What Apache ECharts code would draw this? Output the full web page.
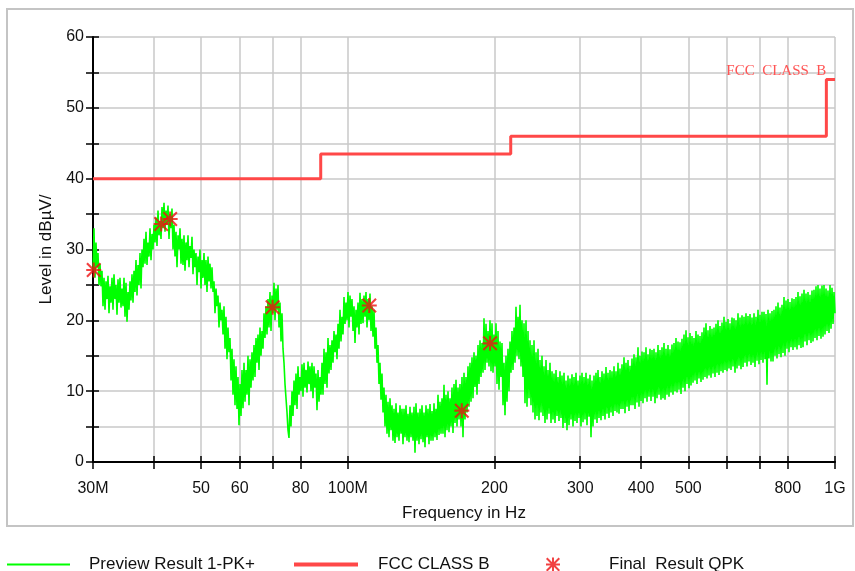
<!DOCTYPE html>
<html>
<head>
<meta charset="utf-8">
<script src="https://cdn.jsdelivr.net/npm/echarts@6/dist/echarts.min.js"></script>
<style>
  html, body { margin: 0; padding: 0; background: #ffffff; }
  #chart { width: 855px; height: 571px; }
</style>
</head>
<body>
<div id="chart"></div>
<script>
// Sweep settings of the peak preview scan (log-spaced frequency grid, MHz)
const sweepStartMHz = 30;
const sweepStopMHz = 1000;

// Preview Result 1-PK+ : levels in dBµV along the sweep
const pkLevels = [
  27, 33, 26, 31, 27.5, 29.5, 25, 28, 24.8, 27,
  22, 26, 21.5, 25.5, 23, 26.3, 21, 24.8, 22.5, 26,
  21.5, 26.5, 23, 25, 20.8, 25.8, 22.5, 26, 21.8, 24.5,
  22, 26, 20.5, 25.3, 19.8, 24, 21.5, 25.5, 22.8, 26.5,
  22.5, 27, 24, 28.5, 23.5, 27.8, 25, 29.5, 24.5, 30,
  27.5, 31.5, 28, 32.5, 27.8, 31, 29, 33, 28.5, 32.2,
  30, 33.5, 31, 34.5, 30.5, 35.5, 32, 34, 31.5, 36,
  33, 36.6, 32.5, 35.5, 33.5, 36.2, 31.5, 35, 33, 35.8,
  30, 33.5, 29, 32.5, 27.5, 32, 30, 33, 28, 31.5,
  27.8, 32, 27, 31, 28.5, 32, 27.5, 30.5, 28.8, 31.8,
  26.5, 30, 27.5, 29.5, 25, 29, 26.8, 30, 24.5, 28.5,
  26, 29.5, 25, 28.5, 24, 29, 25.5, 28, 24.5, 27.5,
  24, 25.5, 21, 24.5, 22, 23.5, 19, 22.5, 20, 21.5,
  18, 22, 16, 20.5, 14.5, 19, 15.5, 17.5, 11.5, 16,
  9.5, 14.5, 8, 13.5, 7.5, 12, 5.2, 11, 6.5, 13,
  7.6, 14, 8.5, 13, 9.5, 15, 8, 14.5, 10.5, 15.5,
  11.5, 16.5, 12, 17.5, 14, 18, 13, 19, 15, 18.5,
  16, 21, 17.5, 22, 18, 23, 19, 24, 18.5, 23.5,
  21, 25.3, 20, 24.5, 21.5, 25, 19, 22.5, 17, 21,
  16, 14, 11, 9, 7, 4.5, 3.4, 8, 5, 10,
  6.5, 11.5, 8, 12.5, 7.5, 13.5, 9.5, 12, 10, 13.8,
  9.2, 14, 10.5, 13, 9.8, 14.2, 11, 13.5, 10, 14,
  9, 13.5, 10.5, 12.5, 7.3, 13, 8.5, 12, 9.5, 14,
  9.5, 16, 11, 15.5, 10.5, 17.5, 12.5, 16.5, 13, 17.2,
  14, 18.5, 15.5, 18, 14.5, 19.5, 16, 21.5, 17, 20.5,
  18, 23.3, 19.5, 22.5, 20, 24, 19, 23.5, 20.5, 23,
  18.5, 22, 16.8, 21.5, 19, 22.5, 18, 23.9, 19.5, 23,
  19.6, 23.5, 20.5, 24, 19, 23, 20, 23.8, 18.5, 22,
  17.7, 21.5, 16, 19, 14, 16.5, 11, 14, 8.8, 12.5,
  7, 10.5, 5, 9.5, 4, 8.5, 3.5, 9, 4.5, 8,
  3, 7.5, 2.7, 8.3, 3.5, 7, 3, 8, 4, 7.5,
  2.5, 7.5, 3.5, 8, 3, 6.8, 2.8, 7.8, 3.5, 7,
  3, 7.8, 1.3, 8.3, 3, 7, 2.5, 7.5, 3.2, 8,
  2.8, 7, 2.1, 8, 3.5, 7.5, 2.5, 8.2, 3, 7.2,
  3, 8.3, 3.5, 7.5, 3.1, 9.5, 3.8, 8.5, 4, 9,
  4, 10.9, 3.5, 9.5, 4.5, 10, 4.2, 9, 5, 10.5,
  4.1, 11, 5.5, 11.6, 5, 10.5, 6, 11, 5, 12,
  3.5, 12.6, 6, 12, 7, 13.5, 7.8, 14, 8.5, 14.8,
  9, 15.5, 10.6, 15, 9.5, 16.5, 11, 17.2, 12, 16.8,
  12.6, 20.3, 13, 19.5, 14, 18.5, 13.5, 20, 12.8, 19.6,
  12.6, 18, 13.5, 19.6, 11, 18.5, 10.2, 17, 12, 16.8,
  8, 14, 6.6, 15, 8.5, 16, 10, 17, 12.6, 18.5,
  13, 19, 14, 21.9, 15, 20.5, 14.5, 22.2, 13.5, 20,
  12, 19.6, 8.3, 20, 7.8, 18.5, 9, 17.2, 8, 16.5,
  7, 17.2, 6, 15.5, 6.5, 16, 5.9, 14.4, 7, 15,
  6.5, 13.5, 5.5, 14.4, 6, 13, 6.8, 14, 5.5, 12.8,
  6, 12.5, 5.5, 13, 6.5, 12, 5.8, 12.8, 6.2, 12.2,
  4.8, 12.6, 5.5, 11.5, 4.5, 12.2, 5.2, 11.8, 6, 12.4,
  5, 12, 5.8, 12.6, 5.5, 11.5, 6.2, 12.2, 5, 12.6,
  5.6, 12, 6, 12.6, 5.2, 11.8, 6.4, 12.3, 3.5, 11.5,
  5, 12.2, 6, 12.6, 5.5, 13, 6.2, 12, 5.9, 12.8,
  6.5, 12.5, 6, 13.4, 6.8, 12.6, 6.2, 13, 7, 12.8,
  6.5, 13.5, 7.2, 12.8, 7, 14, 6.8, 13.2, 7.5, 13.8,
  7.5, 14.8, 6.9, 14, 7.8, 14.4, 7.2, 13.6, 8, 14.6,
  8, 15.2, 7.5, 14.8, 8.4, 16.2, 7.8, 15, 8.6, 15.6,
  8.3, 15.5, 9, 16.2, 8.5, 15.2, 9.2, 16, 8.6, 15.8,
  9.2, 16, 8.3, 15.5, 9, 16.5, 9.5, 15.8, 8.8, 16.2,
  9, 16.8, 8.8, 16, 9.5, 16.5, 9.2, 15.9, 9.8, 16.6,
  9.5, 16.8, 10, 17.5, 9.8, 17, 10.2, 16.9, 9.6, 17.4,
  10.5, 18, 10, 18.6, 11, 17.6, 10.4, 18.2, 10.8, 17.8,
  11.2, 17.5, 11.5, 18.5, 11, 18, 11.8, 17.8, 11.3, 18.3,
  11.6, 19, 12, 19.6, 11.8, 18.6, 12.2, 19.2, 11.9, 18.8,
  12.5, 19, 12, 19.5, 12.6, 20, 12.3, 19.2, 12.8, 19.7,
  12.6, 20.5, 13, 19.8, 12.8, 20.2, 13.2, 19.6, 13, 20.4,
  13.5, 20.3, 12.6, 20, 13.2, 21, 13.6, 20.4, 13.1, 20.7,
  13.4, 20.5, 14, 21, 13.5, 20.6, 14.2, 20.9, 13.7, 20.4,
  14, 21, 13.4, 20.5, 14.3, 21.5, 13.8, 20.8, 14.4, 21.2,
  14, 21.2, 14.5, 20.9, 10.9, 21.5, 14.6, 21, 14.2, 21.3,
  14.2, 21.5, 15, 22, 14.6, 22.5, 15.2, 21.8, 14.8, 22.2,
  15.4, 23.3, 15, 22.8, 16, 23, 15.5, 22.6, 16.2, 23.1,
  15.8, 23, 16.2, 23.3, 15.9, 24, 16.5, 23.4, 16.1, 23.8,
  16.2, 24.3, 17, 23.8, 16.5, 24, 17.2, 23.6, 16.8, 24.2,
  17, 24.3, 17.5, 24.8, 17.2, 25, 17.8, 24.5, 17.4, 24.9,
  17.7, 25, 18, 24.5, 18.5, 24.2, 18.2, 25, 18.8, 24.6,
  19.5, 24, 21
];

// FCC CLASS B limit (step corners, MHz / dBµV)
const limitFreq  = [30, 88, 88, 216, 216, 960, 960, 1000];
const limitLevel = [40, 40, 43.5, 43.5, 46, 46, 54, 54];

// Final Result QPK measurements
const qpkFreq  = [30.1, 41.4, 43.2, 70.1, 110.7, 171.4, 195.9];
const qpkLevel = [27.1, 33.6, 34.3, 21.85, 22.1, 7.25, 16.75];

// Frequency axis ticks and labelled values
const freqTicks  = [30, 40, 50, 60, 70, 80, 100, 200, 300, 400, 500, 600, 700, 800, 1000];
const freqLabels = [30, 50, 60, 80, 100, 200, 300, 400, 500, 800, 1000];

const pkData = pkLevels.map((v, i) => {
  const f = sweepStartMHz * Math.pow(sweepStopMHz / sweepStartMHz, i / (pkLevels.length - 1));
  return [f, v];
});
const limitData = limitFreq.map((f, i) => [f, limitLevel[i]]);
const qpkData = qpkFreq.map((f, i) => [f, qpkLevel[i]]);

// Eight-armed asterisk marker
const starPath = 'path://M8.6,0L11.4,0L11.4,20L8.6,20Z M0,8.6L20,8.6L20,11.4L0,11.4Z M0,2L2,0L20,18L18,20Z M18,0L20,2L2,20L0,18Z';

const fontSans = '"Liberation Sans", Arial, sans-serif';
const gridColor = '#c8c8c8';

function freqLabel(v) {
  const r = Math.round(v);
  if (r === 30) return '30M';
  if (r === 100) return '100M';
  if (r === 1000) return '1G';
  return String(r);
}

const chart = echarts.init(document.getElementById('chart'), null, { renderer: 'canvas' });

function legendFor(name, left, width, icon, height, gap) {
  return {
    top: 556,
    left: left,
    padding: 0,
    itemWidth: width,
    itemHeight: height,
    data: [{ name: name, icon: icon }],
    formatter: '{t|{name}}',
    textStyle: {
      fontFamily: fontSans, fontSize: 17, color: '#111',
      rich: { t: { padding: [0, 0, 0, gap], fontFamily: fontSans, fontSize: 17, color: '#111' } }
    }
  };
}

chart.setOption({
  backgroundColor: '#ffffff',
  animation: false,
  grid: { left: 93, right: 20, top: 37, bottom: 109 },
  graphic: [{
    type: 'rect',
    shape: { x: 7, y: 9, width: 846, height: 517 },
    style: { fill: 'none', stroke: '#c4c4c4', lineWidth: 2 },
    silent: true,
    z: -10
  }],
  legend: [
    legendFor('Preview Result 1-PK+', 7, 63, 'rect', 2, 14),
    legendFor('FCC CLASS B', 294, 64, 'rect', 4, 15),
    legendFor('Final  Result QPK', 546, 14, starPath, 14, 44)
  ],
  xAxis: [{
    type: 'log',
    logBase: 10,
    min: 30,
    max: 1000,
    name: 'Frequency in Hz',
    nameLocation: 'middle',
    nameGap: 43,
    nameTextStyle: { fontFamily: fontSans, fontSize: 17, color: '#111' },
    axisLine: { show: true, onZero: false, lineStyle: { color: '#000', width: 2 } },
    axisTick: { show: true, inside: false, length: 7, customValues: freqTicks, lineStyle: { color: '#000', width: 1.5 } },
    axisLabel: {
      show: true, customValues: freqLabels, margin: 19,
      formatter: freqLabel,
      fontFamily: fontSans, fontSize: 16, color: '#111'
    },
    splitLine: { show: true, lineStyle: { color: gridColor, width: 1.5 } },
    minorSplitLine: { show: false }
  }, {
    type: 'log',
    logBase: 10,
    min: 30,
    max: 1000,
    position: 'bottom',
    offset: 0,
    axisLine: { show: false },
    axisTick: { show: true, inside: true, length: 6, customValues: freqTicks, lineStyle: { color: '#000', width: 1.5 } },
    axisLabel: { show: false },
    splitLine: { show: false }
  }],
  yAxis: [{
    type: 'value',
    min: 0,
    max: 60,
    interval: 5,
    name: 'Level in dBµV/',
    nameLocation: 'middle',
    nameGap: 31,
    nameTextStyle: { fontFamily: fontSans, fontSize: 17, color: '#111' },
    axisLine: { show: true, onZero: false, lineStyle: { color: '#000', width: 2 } },
    axisTick: { show: true, inside: false, length: 7, lineStyle: { color: '#000', width: 1.5 } },
    axisLabel: {
      margin: 9,
      formatter: v => (v % 10 === 0 ? String(v) : ''),
      fontFamily: fontSans, fontSize: 16, color: '#111'
    },
    splitLine: { show: true, lineStyle: { color: gridColor, width: 1.5 } }
  }, {
    type: 'value',
    min: 0,
    max: 60,
    interval: 5,
    position: 'left',
    offset: 0,
    axisLine: { show: false },
    axisTick: { show: true, inside: true, length: 6, lineStyle: { color: '#000', width: 1.5 } },
    axisLabel: { show: false },
    splitLine: { show: false }
  }],
  series: [{
    name: 'Preview Result 1-PK+',
    type: 'line',
    data: pkData,
    symbol: 'none',
    lineStyle: { color: '#00ff00', width: 1.6 },
    itemStyle: { color: '#00ff00' },
    z: 2
  }, {
    name: 'FCC CLASS B',
    type: 'line',
    data: limitData,
    symbol: 'none',
    lineStyle: { color: '#ff4848', width: 3 },
    itemStyle: { color: '#ff4848' },
    markPoint: {
      silent: true,
      symbol: 'circle',
      symbolSize: 0,
      data: [{
        coord: [limitFreq[6], limitLevel[6]],
        label: {
          show: true,
          formatter: 'FCC  CLASS  B',
          position: 'top',
          align: 'right',
          distance: 1,
          color: '#ff5555',
          fontFamily: '"Liberation Serif", "DejaVu Serif", serif',
          fontSize: 15
        }
      }]
    },
    z: 3
  }, {
    name: 'Final  Result QPK',
    type: 'scatter',
    data: qpkData,
    symbol: starPath,
    symbolSize: 15,
    itemStyle: { color: '#ee1111' },
    z: 4
  }]
});
</script>
</body>
</html>
